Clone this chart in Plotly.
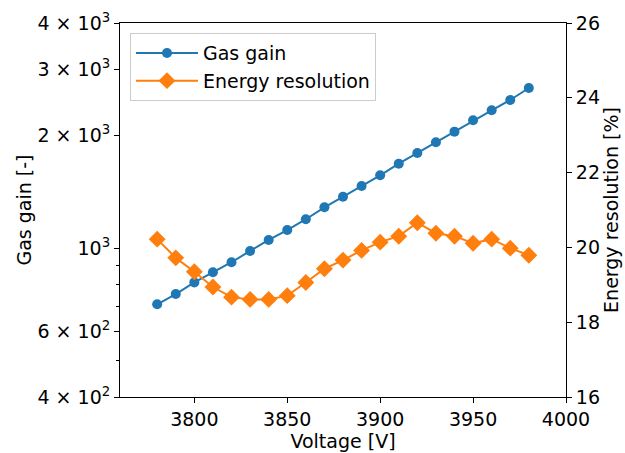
import plotly.graph_objects as go

# Measurement data
voltage = [3780, 3790, 3800, 3810, 3820, 3830, 3840, 3850, 3860, 3870, 3880,
           3890, 3900, 3910, 3920, 3930, 3940, 3950, 3960, 3970, 3980]
gas_gain = [708, 754, 810, 862, 917, 983, 1052, 1118, 1195, 1286, 1373,
            1467, 1566, 1682, 1797, 1919, 2049, 2197, 2337, 2490, 2681]
energy_res = [20.22, 19.72, 19.35, 18.94, 18.67, 18.61, 18.61, 18.71, 19.06, 19.43, 19.66,
              19.92, 20.14, 20.30, 20.66, 20.38, 20.30, 20.11, 20.22, 19.98, 19.79]

gain_tickvals = [400, 600, 1000, 2000, 3000, 4000]
gain_ticktext = ["4 × 10<sup>2</sup>", "6 × 10<sup>2</sup>", "10<sup>3</sup>",
                 "2 × 10<sup>3</sup>", "3 × 10<sup>3</sup>", "4 × 10<sup>3</sup>"]
gain_minor = [500, 700, 800, 900]

BLUE = "#1f77b4"
ORANGE = "#ff7f0e"
FONT = "DejaVu Sans"
FS = 19

fig = go.Figure()
fig.add_trace(go.Scatter(
    x=voltage, y=gas_gain, name="Gas gain", mode="lines+markers",
    line=dict(color=BLUE, width=2),
    marker=dict(symbol="circle", size=10, color=BLUE),
))
fig.add_trace(go.Scatter(
    x=voltage, y=energy_res, name="Energy resolution", mode="lines+markers",
    yaxis="y2",
    line=dict(color=ORANGE, width=2),
    marker=dict(symbol="diamond", size=13, color=ORANGE),
))

axis_common = dict(
    showgrid=False, zeroline=False, showline=True, linecolor="black", linewidth=1,
    ticks="outside", ticklen=5, tickwidth=1, tickcolor="black",
    tickfont=dict(family=FONT, size=FS, color="black"),
    automargin=False,
)

fig.update_layout(
    width=625, height=453,
    margin=dict(l=120, r=59, t=23, b=56),
    paper_bgcolor="white", plot_bgcolor="white",
    font=dict(family=FONT, size=FS, color="black"),
    xaxis=dict(
        **axis_common, range=[3760, 4000], tickvals=[3800, 3850, 3900, 3950, 4000],
        mirror=True,
        title=dict(text="Voltage [V]", font=dict(family=FONT, size=FS), standoff=4),
    ),
    yaxis=dict(
        **axis_common, type="log", range=[2.60206, 3.60206],
        tickvals=gain_tickvals, ticktext=gain_ticktext,
        minor=dict(tickvals=gain_minor, ticks="outside", ticklen=3, tickcolor="black"),
        title=dict(text="Gas gain [-]", font=dict(family=FONT, size=FS), standoff=0),
    ),
    yaxis2=dict(
        **axis_common, overlaying="y", side="right", range=[16, 26],
        tickvals=[16, 18, 20, 22, 24, 26],
        title=dict(text="Energy resolution [%]", font=dict(family=FONT, size=FS), standoff=4),
    ),
    legend=dict(
        x=0.0224, y=0.973, xanchor="left", yanchor="top",
        bgcolor="rgba(255,255,255,0.8)", bordercolor="#cccccc", borderwidth=1,
        font=dict(family=FONT, size=FS), itemwidth=62,
    ),
    showlegend=True,
)

fig.write_html("out.html")
